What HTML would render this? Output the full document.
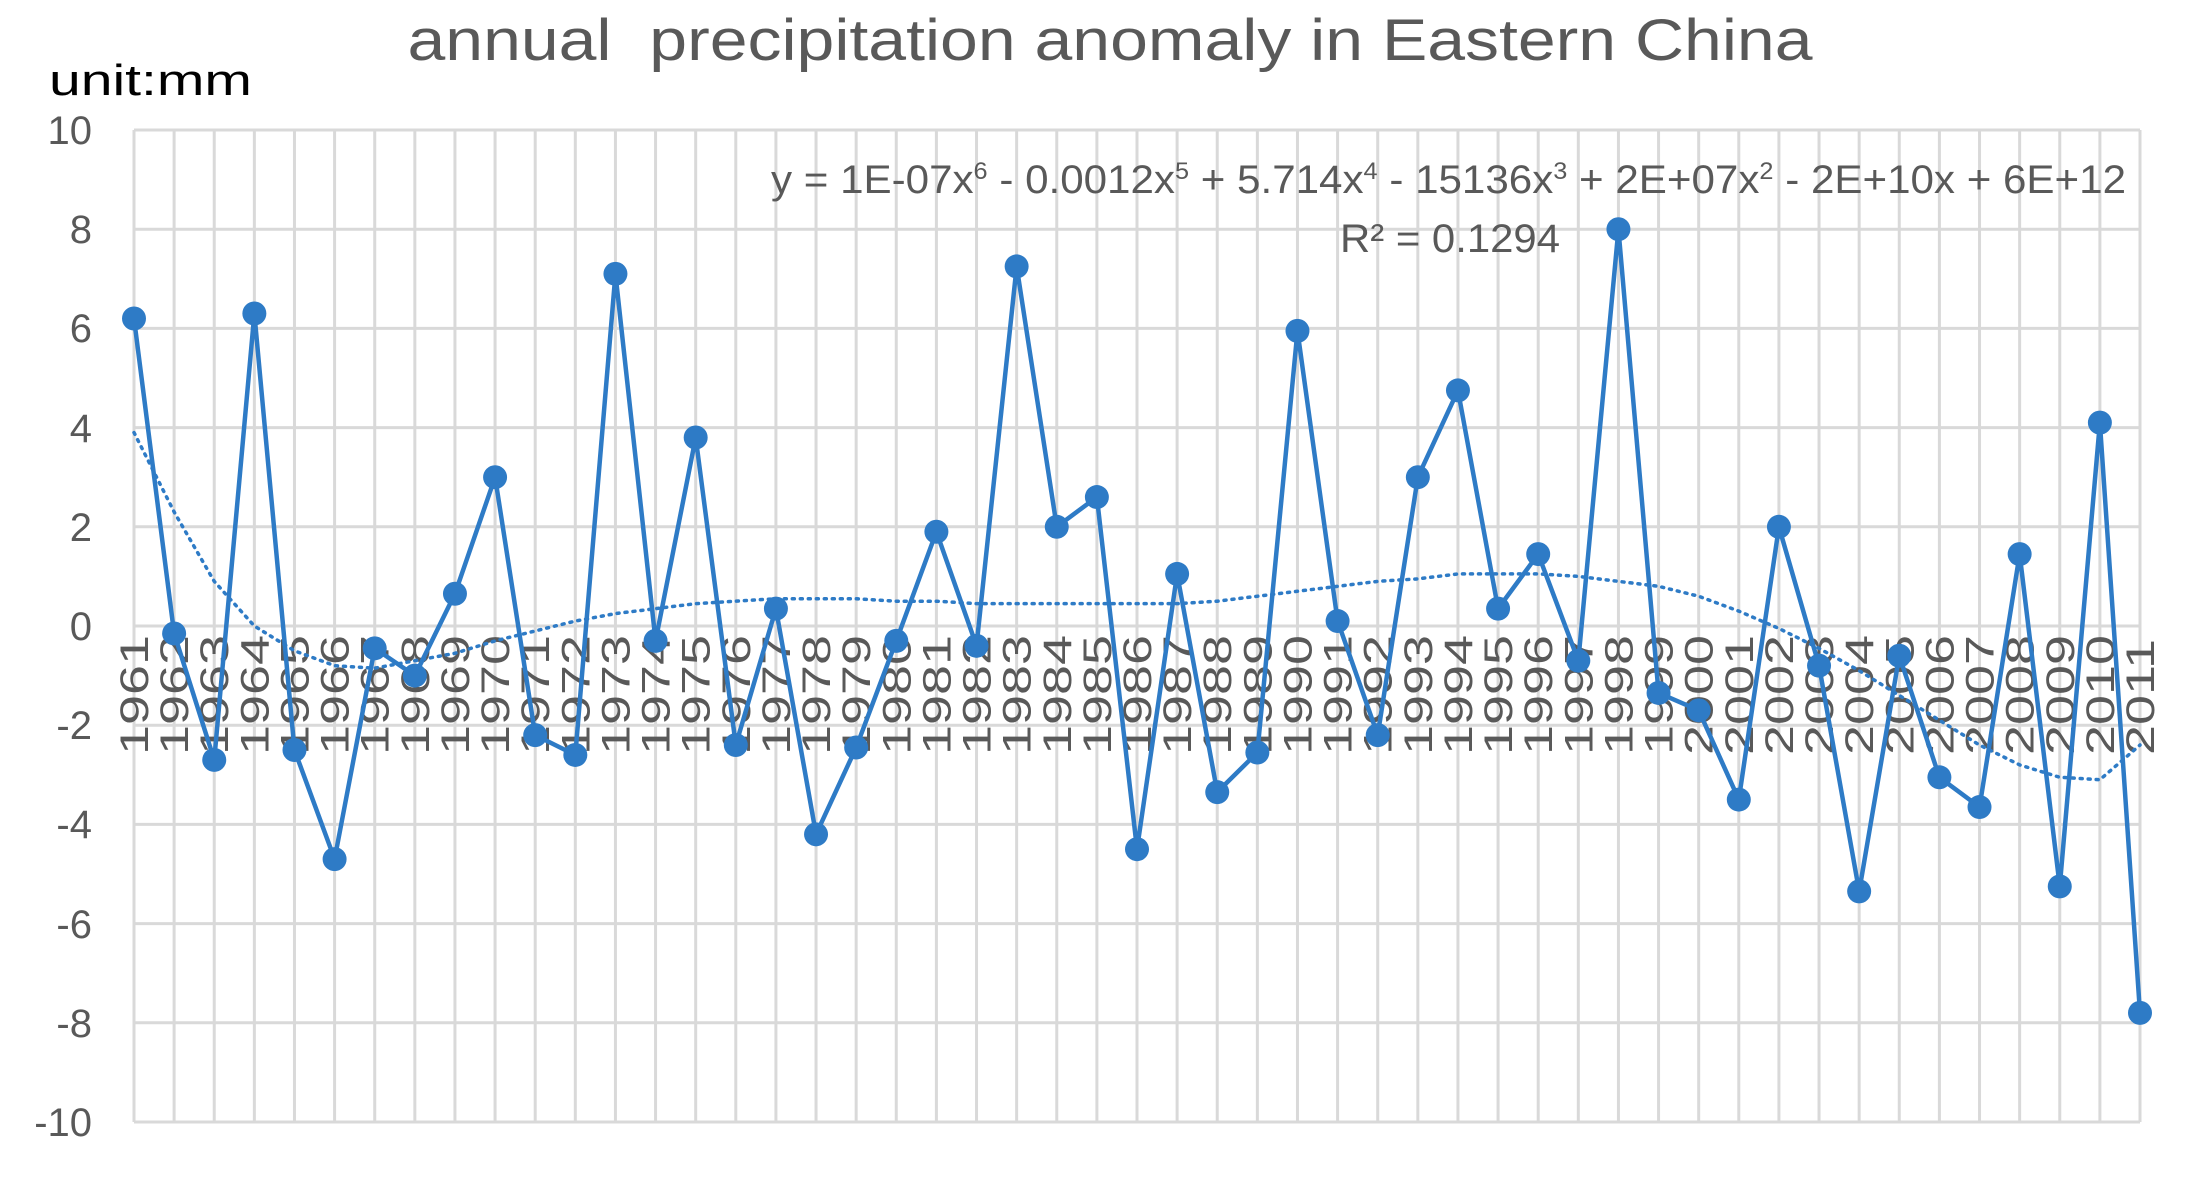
<!DOCTYPE html>
<html><head><meta charset="utf-8"><style>
html,body{margin:0;padding:0;background:#fff;}
svg{display:block;}
</style></head><body>
<svg width="2186" height="1185" viewBox="0 0 2186 1185" xmlns="http://www.w3.org/2000/svg" font-family="'Liberation Sans', sans-serif">
<rect width="2186" height="1185" fill="#fff"/>
<g transform="translate(134,626) scale(40.12,-49.6)" fill="none">
<path vector-effect="non-scaling-stroke" stroke="#d9d9d9" stroke-width="3" d="M0 10H50M0 8H50M0 6H50M0 4H50M0 2H50M0 0H50M0 -2H50M0 -4H50M0 -6H50M0 -8H50M0 -10H50
M0 10V-10M1 10V-10M2 10V-10M3 10V-10M4 10V-10M5 10V-10M6 10V-10M7 10V-10M8 10V-10M9 10V-10M10 10V-10M11 10V-10M12 10V-10M13 10V-10M14 10V-10M15 10V-10M16 10V-10M17 10V-10M18 10V-10M19 10V-10M20 10V-10M21 10V-10M22 10V-10M23 10V-10M24 10V-10M25 10V-10M26 10V-10M27 10V-10M28 10V-10M29 10V-10M30 10V-10M31 10V-10M32 10V-10M33 10V-10M34 10V-10M35 10V-10M36 10V-10M37 10V-10M38 10V-10M39 10V-10M40 10V-10M41 10V-10M42 10V-10M43 10V-10M44 10V-10M45 10V-10M46 10V-10M47 10V-10M48 10V-10M49 10V-10M50 10V-10"/>
</g>
<text x="1110" y="60" font-size="58" fill="#595959" text-anchor="middle" textLength="1405" lengthAdjust="spacingAndGlyphs" xml:space="preserve">annual  precipitation anomaly in Eastern China</text>
<text x="49" y="95" font-size="44" fill="#000" textLength="203" lengthAdjust="spacingAndGlyphs">unit:mm</text>
<g font-size="40" fill="#595959" text-anchor="end">
<text x="92" y="144">10</text><text x="92" y="243">8</text><text x="92" y="342">6</text><text x="92" y="442">4</text><text x="92" y="541">2</text><text x="92" y="640">0</text><text x="92" y="739">-2</text><text x="92" y="838">-4</text><text x="92" y="938">-6</text><text x="92" y="1037">-8</text><text x="92" y="1136">-10</text>
</g>
<g font-size="40" fill="#595959">
<text transform="translate(148,755) rotate(-90) scale(1.35,1)">1961</text>
<text transform="translate(188.12,755) rotate(-90) scale(1.35,1)">1962</text>
<text transform="translate(228.24,755) rotate(-90) scale(1.35,1)">1963</text>
<text transform="translate(268.36,755) rotate(-90) scale(1.35,1)">1964</text>
<text transform="translate(308.48,755) rotate(-90) scale(1.35,1)">1965</text>
<text transform="translate(348.6,755) rotate(-90) scale(1.35,1)">1966</text>
<text transform="translate(388.72,755) rotate(-90) scale(1.35,1)">1967</text>
<text transform="translate(428.84,755) rotate(-90) scale(1.35,1)">1968</text>
<text transform="translate(468.96,755) rotate(-90) scale(1.35,1)">1969</text>
<text transform="translate(509.08,755) rotate(-90) scale(1.35,1)">1970</text>
<text transform="translate(549.2,755) rotate(-90) scale(1.35,1)">1971</text>
<text transform="translate(589.32,755) rotate(-90) scale(1.35,1)">1972</text>
<text transform="translate(629.44,755) rotate(-90) scale(1.35,1)">1973</text>
<text transform="translate(669.56,755) rotate(-90) scale(1.35,1)">1974</text>
<text transform="translate(709.68,755) rotate(-90) scale(1.35,1)">1975</text>
<text transform="translate(749.8,755) rotate(-90) scale(1.35,1)">1976</text>
<text transform="translate(789.92,755) rotate(-90) scale(1.35,1)">1977</text>
<text transform="translate(830.04,755) rotate(-90) scale(1.35,1)">1978</text>
<text transform="translate(870.16,755) rotate(-90) scale(1.35,1)">1979</text>
<text transform="translate(910.28,755) rotate(-90) scale(1.35,1)">1980</text>
<text transform="translate(950.4,755) rotate(-90) scale(1.35,1)">1981</text>
<text transform="translate(990.52,755) rotate(-90) scale(1.35,1)">1982</text>
<text transform="translate(1030.64,755) rotate(-90) scale(1.35,1)">1983</text>
<text transform="translate(1070.76,755) rotate(-90) scale(1.35,1)">1984</text>
<text transform="translate(1110.88,755) rotate(-90) scale(1.35,1)">1985</text>
<text transform="translate(1151,755) rotate(-90) scale(1.35,1)">1986</text>
<text transform="translate(1191.12,755) rotate(-90) scale(1.35,1)">1987</text>
<text transform="translate(1231.24,755) rotate(-90) scale(1.35,1)">1988</text>
<text transform="translate(1271.36,755) rotate(-90) scale(1.35,1)">1989</text>
<text transform="translate(1311.48,755) rotate(-90) scale(1.35,1)">1990</text>
<text transform="translate(1351.6,755) rotate(-90) scale(1.35,1)">1991</text>
<text transform="translate(1391.72,755) rotate(-90) scale(1.35,1)">1992</text>
<text transform="translate(1431.84,755) rotate(-90) scale(1.35,1)">1993</text>
<text transform="translate(1471.96,755) rotate(-90) scale(1.35,1)">1994</text>
<text transform="translate(1512.08,755) rotate(-90) scale(1.35,1)">1995</text>
<text transform="translate(1552.2,755) rotate(-90) scale(1.35,1)">1996</text>
<text transform="translate(1592.32,755) rotate(-90) scale(1.35,1)">1997</text>
<text transform="translate(1632.44,755) rotate(-90) scale(1.35,1)">1998</text>
<text transform="translate(1672.56,755) rotate(-90) scale(1.35,1)">1999</text>
<text transform="translate(1712.68,755) rotate(-90) scale(1.35,1)">2000</text>
<text transform="translate(1752.8,755) rotate(-90) scale(1.35,1)">2001</text>
<text transform="translate(1792.92,755) rotate(-90) scale(1.35,1)">2002</text>
<text transform="translate(1833.04,755) rotate(-90) scale(1.35,1)">2003</text>
<text transform="translate(1873.16,755) rotate(-90) scale(1.35,1)">2004</text>
<text transform="translate(1913.28,755) rotate(-90) scale(1.35,1)">2005</text>
<text transform="translate(1953.4,755) rotate(-90) scale(1.35,1)">2006</text>
<text transform="translate(1993.52,755) rotate(-90) scale(1.35,1)">2007</text>
<text transform="translate(2033.64,755) rotate(-90) scale(1.35,1)">2008</text>
<text transform="translate(2073.76,755) rotate(-90) scale(1.35,1)">2009</text>
<text transform="translate(2113.88,755) rotate(-90) scale(1.35,1)">2010</text>
<text transform="translate(2154,755) rotate(-90) scale(1.35,1)">2011</text>
</g>
<g transform="translate(134,626) scale(40.12,-49.6)" fill="none">
<polyline vector-effect="non-scaling-stroke" stroke="#2e7bc6" stroke-width="3.5" stroke-dasharray="2 6" stroke-linecap="round"
points="0,3.9 1,2.3 2,0.9 3,0.0 4,-0.5 5,-0.8 6,-0.85 7,-0.7 8,-0.55 9,-0.3 10,-0.1 11,0.1 12,0.25 13,0.35 14,0.45 15,0.5 16,0.55 17,0.55 18,0.55 19,0.5 20,0.5 21,0.45 22,0.45 23,0.45 24,0.45 25,0.45 26,0.45 27,0.5 28,0.6 29,0.7 30,0.8 31,0.9 32,0.95 33,1.05 34,1.05 35,1.05 36,1.0 37,0.9 38,0.8 39,0.6 40,0.3 41,-0.05 42,-0.45 43,-0.9 44,-1.4 45,-1.9 46,-2.4 47,-2.8 48,-3.05 49,-3.1 50,-2.4"/>
<polyline vector-effect="non-scaling-stroke" stroke="#2e7bc6" stroke-width="4.5" stroke-linejoin="round"
points="0,6.2 1,-0.15 2,-2.7 3,6.3 4,-2.5 5,-4.7 6,-0.45 7,-1.0 8,0.65 9,3.0 10,-2.2 11,-2.6 12,7.1 13,-0.3 14,3.8 15,-2.4 16,0.35 17,-4.2 18,-2.45 19,-0.3 20,1.9 21,-0.4 22,7.25 23,2.0 24,2.6 25,-4.5 26,1.05 27,-3.35 28,-2.55 29,5.95 30,0.1 31,-2.2 32,3.0 33,4.75 34,0.35 35,1.45 36,-0.7 37,8.0 38,-1.35 39,-1.7 40,-3.5 41,2.0 42,-0.8 43,-5.35 44,-0.6 45,-3.05 46,-3.65 47,1.45 48,-5.25 49,4.1 50,-7.8"/>
<path vector-effect="non-scaling-stroke" stroke="#2e7bc6" stroke-width="24" stroke-linecap="round"
d="M0 6.2h0M1 -0.15h0M2 -2.7h0M3 6.3h0M4 -2.5h0M5 -4.7h0M6 -0.45h0M7 -1.0h0M8 0.65h0M9 3.0h0M10 -2.2h0M11 -2.6h0M12 7.1h0M13 -0.3h0M14 3.8h0M15 -2.4h0M16 0.35h0M17 -4.2h0M18 -2.45h0M19 -0.3h0M20 1.9h0M21 -0.4h0M22 7.25h0M23 2.0h0M24 2.6h0M25 -4.5h0M26 1.05h0M27 -3.35h0M28 -2.55h0M29 5.95h0M30 0.1h0M31 -2.2h0M32 3.0h0M33 4.75h0M34 0.35h0M35 1.45h0M36 -0.7h0M37 8.0h0M38 -1.35h0M39 -1.7h0M40 -3.5h0M41 2.0h0M42 -0.8h0M43 -5.35h0M44 -0.6h0M45 -3.05h0M46 -3.65h0M47 1.45h0M48 -5.25h0M49 4.1h0M50 -7.8h0"/>
</g>
<text x="2126" y="193" font-size="40" fill="#595959" text-anchor="end" textLength="1355" lengthAdjust="spacingAndGlyphs">y = 1E-07x<tspan font-size="24" dy="-14">6</tspan><tspan dy="14"> - 0.0012x</tspan><tspan font-size="24" dy="-14">5</tspan><tspan dy="14"> + 5.714x</tspan><tspan font-size="24" dy="-14">4</tspan><tspan dy="14"> - 15136x</tspan><tspan font-size="24" dy="-14">3</tspan><tspan dy="14"> + 2E+07x</tspan><tspan font-size="24" dy="-14">2</tspan><tspan dy="14"> - 2E+10x + 6E+12</tspan></text>
<text x="1450" y="252" font-size="40" fill="#595959" text-anchor="middle" textLength="220" lengthAdjust="spacingAndGlyphs">R² = 0.1294</text>
</svg>
</body></html>
